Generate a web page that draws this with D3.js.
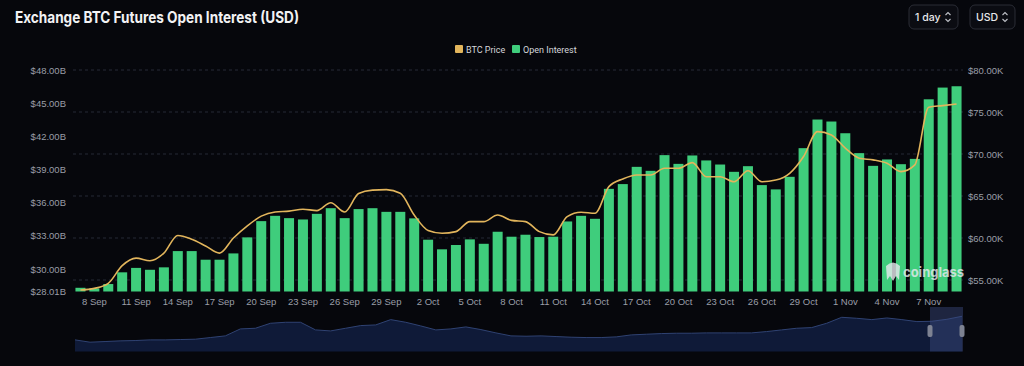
<!DOCTYPE html>
<html>
<head>
<meta charset="utf-8">
<script src="https://cdn.jsdelivr.net/npm/d3@7"></script>
<style>
  html, body { margin: 0; padding: 0; background: #06070c; }
  svg { display: block; font-family: Inter, "Noto Sans", sans-serif; }
</style>
</head>
<body>
<div id="chart"></div>
<script>
// open interest per day, $B (7 Sep .. 9 Nov)
var openInterest = [
  28.3, 28.25, 28.64, 29.7, 30.1, 29.93, 30.15, 31.62, 31.62, 30.84,
  30.84, 31.41, 32.86, 34.33, 34.81, 34.6, 34.48, 34.99, 35.5, 34.6,
  35.42, 35.5, 35.17, 35.17, 34.58, 32.65, 31.78, 32.17, 32.68, 32.28,
  33.37, 32.92, 33.1, 32.89, 32.92, 34.3, 34.81, 34.54, 37.25, 37.68,
  39.24, 38.88, 40.3, 39.51, 40.27, 39.82, 39.45, 38.79, 39.3, 37.59,
  37.2, 38.34, 40.93, 43.52, 43.34, 42.28, 40.48, 39.33, 39.91, 39.48,
  39.96, 45.35, 46.41, 46.53
];
// btc price per day, $K
var btcPrice = [
  53.8, 54.0, 54.6, 56.7, 57.6, 57.3, 58.2, 60.3, 59.85, 59.05,
  58.2, 60.0, 61.45, 62.6, 63.1, 63.2, 63.43, 63.26, 64.2, 63.1,
  65.3, 65.7, 65.76, 65.33, 62.74, 60.9, 60.57, 60.76, 61.95, 61.95,
  62.74, 62.1, 61.95, 60.76, 60.37, 62.55, 63.07, 62.94, 66.12, 67.03,
  67.5, 67.5, 68.3, 68.3, 68.97, 67.3, 67.3, 66.7, 68.0, 66.7,
  66.9, 67.7, 69.7, 72.66, 72.27, 70.7, 69.5, 69.3, 68.9, 67.9,
  68.7, 75.57, 75.76, 75.96
];
var dates = d3.timeDay.range(new Date(2024, 8, 7), new Date(2024, 10, 10));

var leftTicks = [28.01, 30, 33, 36, 39, 42, 45, 48];
var rightTicks = [55, 60, 65, 70, 75, 80];

// overview strip at the bottom
var navValues = [
  35, 28, 30, 32, 33, 35, 35, 36, 37, 42, 47, 68, 70, 85, 88, 88, 65, 62, 70, 78,
  80, 96, 88, 77, 65, 68, 74, 66, 56, 47, 46, 47, 45, 43, 42, 42, 44, 50, 52, 54,
  55, 55, 56, 56, 56, 56, 60, 65, 70, 72, 85, 103, 100, 96, 101, 96, 90, 91, 97, 106
];

var width = 1024, height = 366;
var green = "#3fcd7c", gold = "#e2b55c", axisText = "#9a9ea8";

var svg = d3.select("#chart").append("svg")
  .attr("width", width).attr("height", height);

svg.append("rect").attr("width", width).attr("height", height).attr("fill", "#06070c");

// title
svg.append("text")
  .attr("x", 15).attr("y", 23)
  .attr("fill", "#f2f2f4")
  .attr("font-size", 15.5).attr("font-weight", 700)
  .attr("textLength", 284).attr("lengthAdjust", "spacingAndGlyphs")
  .text("Exchange BTC Futures Open Interest (USD)");

// dropdowns top right
function dropdown(x, w, label) {
  var g = svg.append("g").attr("transform", `translate(${x}, 5)`);
  g.append("rect").attr("width", w).attr("height", 24).attr("rx", 5)
    .attr("fill", "#0b0c12").attr("stroke", "#2a2c35");
  var t = g.append("text").attr("x", 6).attr("y", 16).attr("fill", "#e8e8ea")
    .attr("font-size", 10.5).attr("font-weight", 500).text(label);
  var cx = w - 10;
  g.append("path").attr("d", `M${cx - 2.5},10 L${cx},7.5 L${cx + 2.5},10 M${cx - 2.5},14 L${cx},16.5 L${cx + 2.5},14`)
    .attr("fill", "none").attr("stroke", "#bfc1c7").attr("stroke-width", 1.1);
}
dropdown(909, 49, "1 day");
dropdown(970, 45, "USD");

// legend
var legend = svg.append("g").attr("font-size", 9).attr("fill", "#d6d7db")
  .attr("font-family", "Roboto, sans-serif");
legend.append("rect").attr("x", 455).attr("y", 45).attr("width", 8).attr("height", 8).attr("rx", 1).attr("fill", gold);
legend.append("text").attr("x", 466).attr("y", 52.5).text("BTC Price");
legend.append("rect").attr("x", 512).attr("y", 45).attr("width", 8).attr("height", 8).attr("rx", 1).attr("fill", green);
legend.append("text").attr("x", 523).attr("y", 52.5).text("Open Interest");

// scales
var x = d3.scaleBand().domain(d3.range(dates.length))
  .range([73.5, 963.5]).paddingInner(0.28).paddingOuter(0.14);
var yL = d3.scaleLinear().domain([28.01, 48]).range([291, 70]);
var yR = d3.scaleLinear().domain([53.69, 80]).range([291, 70]);

// grid
svg.append("g").selectAll("line").data(rightTicks).join("line")
  .attr("x1", 73).attr("x2", 963)
  .attr("y1", d => yR(d)).attr("y2", d => yR(d))
  .attr("stroke", "#262a36").attr("stroke-dasharray", "3,3");

// axes
var leftAxis = svg.append("g").attr("transform", "translate(66,0)")
  .call(d3.axisLeft(yL).tickValues(leftTicks).tickSize(0).tickPadding(0)
    .tickFormat(d => "$" + d.toFixed(2) + "B"));
var rightAxis = svg.append("g").attr("transform", "translate(968,0)")
  .call(d3.axisRight(yR).tickValues(rightTicks).tickSize(0).tickPadding(0)
    .tickFormat(d => "$" + d.toFixed(2) + "K"));
[leftAxis, rightAxis].forEach(a => {
  a.select(".domain").remove();
  a.selectAll("text").attr("fill", axisText).attr("font-size", 9.5);
});

var fmt = d3.timeFormat("%-d %b");
var xAxis = svg.append("g").attr("transform", "translate(0,293)")
  .call(d3.axisBottom(x).tickValues(d3.range(1, dates.length, 3)).tickSize(0).tickPadding(5)
    .tickFormat(i => fmt(dates[i])));
xAxis.select(".domain").remove();
xAxis.selectAll("text").attr("fill", axisText).attr("font-size", 9.5);

// bars
svg.append("g").selectAll("rect").data(openInterest).join("rect")
  .attr("x", (d, i) => x(i))
  .attr("width", x.bandwidth())
  .attr("y", d => yL(d))
  .attr("height", d => yL(28.01) - yL(d) + 0.5)
  .attr("fill", green);

// watermark
var wm = svg.append("g").attr("opacity", 0.8);
wm.append("path")
  .attr("d", "M886,266 Q893,259 900,266 L899,280 L896,276 L893,281 L890,276 L887,280 Z")
  .attr("fill", "#e8eaee");
wm.append("text").attr("x", 903).attr("y", 277).attr("fill", "#e8eaee")
  .attr("font-size", 13).attr("font-weight", 700).text("coinglass");

// price line
var line = d3.line()
  .x((d, i) => x(i) + x.bandwidth() / 2)
  .y(d => yR(d))
  .curve(d3.curveMonotoneX);
svg.append("path").datum(btcPrice)
  .attr("d", line)
  .attr("fill", "none").attr("stroke", gold).attr("stroke-width", 1.6);

// navigator
var nx = d3.scaleLinear().domain([0, navValues.length - 1]).range([75, 962]);
var ny = d3.scaleLinear().domain([0, 140]).range([351.5, 305]);
svg.append("path").datum(navValues)
  .attr("d", d3.area().x((d, i) => nx(i)).y0(351.5).y1(d => ny(d)))
  .attr("fill", "#0f1a38");
svg.append("path").datum(navValues)
  .attr("d", d3.line().x((d, i) => nx(i)).y(d => ny(d)))
  .attr("fill", "none").attr("stroke", "#2f4272").attr("stroke-width", 1);
svg.append("rect").attr("x", 930).attr("y", 307).attr("width", 33).attr("height", 44.5)
  .attr("fill", "#3c4c80").attr("opacity", 0.45);
[930, 962].forEach(hx => {
  svg.append("rect").attr("x", hx - 2.5).attr("y", 325).attr("width", 5).attr("height", 12)
    .attr("rx", 2).attr("fill", "#7d8292");
});
</script>
</body>
</html>
